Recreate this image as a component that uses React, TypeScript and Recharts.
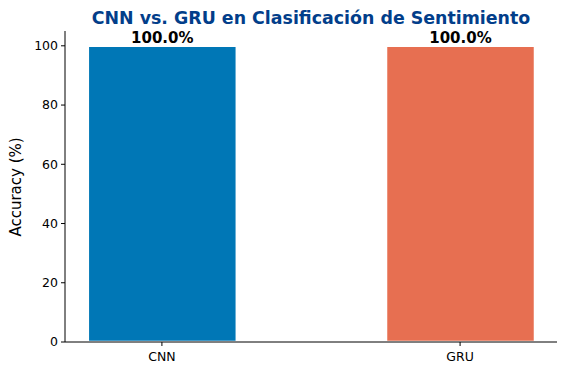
import React from 'react';
import { BarChart, Bar, XAxis, YAxis, Cell, LabelList } from 'recharts';

const categories = ['CNN', 'GRU'];
const accuracies = [100.0, 100.0];
const colors = ['#0077b6', '#e76f51'];
const yTicks = [0, 20, 40, 60, 80, 100];

const data = categories.map((name, i) => ({ x: i, name, acc: accuracies[i] }));

const font = 'DejaVu Sans, sans-serif';

const YLabel = () => (
  <text
    x={16}
    y={187}
    transform="rotate(-90 16 187)"
    textAnchor="middle"
    dominantBaseline="central"
    style={{ fontSize: 15, fill: '#000', fontFamily: font }}
  >
    Accuracy (%)
  </text>
);

export default function App() {
  return (
    <div style={{ position: 'relative', width: 566, height: 374, margin: -8, background: '#fff', fontFamily: font }}>
      <div style={{ position: 'absolute', left: 65, width: 492, top: 8, textAlign: 'center', fontSize: 17.4, fontWeight: 'bold', color: '#023e8a', lineHeight: '20px' }}>
        CNN vs. GRU en Clasificación de Sentimiento
      </div>
      <BarChart width={566} height={374} data={data} margin={{ top: 31, right: 9, bottom: 2, left: 0 }}>
        <XAxis
          dataKey="x"
          type="number"
          height={30}
          domain={[-0.325, 1.325]}
          ticks={[0, 1]}
          tickFormatter={(v: number) => categories[v]}
          tick={{ fill: '#000', fontSize: 12.5, fontFamily: font, dy: 4 }}
          tickLine={{ stroke: '#000' }}
          axisLine={{ stroke: '#000' }}
          tickSize={4}
          allowDataOverflow
        />
        <YAxis
          width={65}
          domain={[0, 105]}
          ticks={yTicks}
          tick={{ fill: '#000', fontSize: 12.5, fontFamily: font, dx: -1 }}
          tickLine={{ stroke: '#000' }}
          axisLine={{ stroke: '#000' }}
          tickSize={4}
          label={{ content: YLabel }}
        />
        <Bar dataKey="acc" barSize={149} stroke="#fff" strokeWidth={2.5} isAnimationActive={false}>
          {data.map((d, i) => (
            <Cell key={d.name} fill={colors[i]} />
          ))}
          <LabelList
            dataKey="acc"
            position="top"
            offset={3}
            formatter={(v: number) => `${v.toFixed(1)}%`}
            style={{ fontWeight: 'bold', fontSize: 15, fill: '#000', fontFamily: font }}
          />
        </Bar>
      </BarChart>
    </div>
  );
}
